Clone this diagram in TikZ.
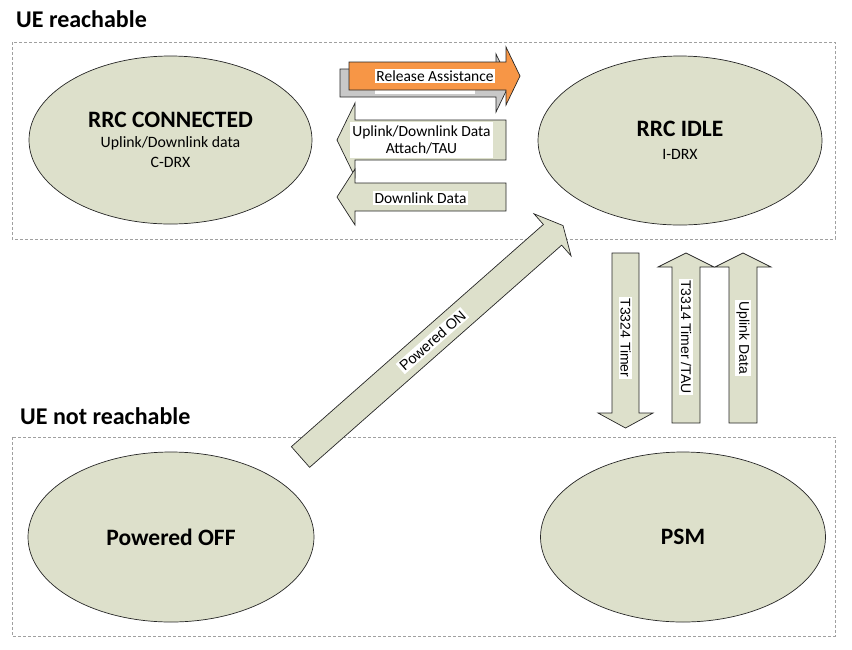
\documentclass[tikz,border=0pt]{standalone}
\usepackage{fontspec}
\setmainfont{Carlito}
\newfontfamily\arialfont{Liberation Sans}
\usetikzlibrary{shapes.geometric, positioning}
\definecolor{Sage}{RGB}{221,224,203}
\definecolor{Tangerine}{RGB}{247,150,70}
\definecolor{Shadow}{RGB}{200,200,200}
\definecolor{Frame}{RGB}{160,160,160}
\newcommand{\statefont}{\bfseries\fontsize{23.5}{25}\selectfont}
\newcommand{\notefont}{\fontsize{15.8}{20}\selectfont}
\tikzset{
  state/.style={ellipse, draw=black!85, fill=Sage, line width=0.7pt, align=center, inner sep=0pt, font=\notefont},
  zone/.style={draw=Frame, dash pattern=on 3pt off 2pt, line width=0.7pt},
  blockarrow/.style={draw=black!85, fill=Sage, line width=0.7pt, line join=miter},
  tag/.style={fill=white, inner sep=1.5pt, align=center, font=\fontsize{15.5}{17}\selectfont},
  vtag/.style={fill=white, inner sep=1.5pt, rotate=-90, font=\arialfont\fontsize{14}{16}\selectfont},
  title/.style={anchor=west, inner sep=0pt, font=\bfseries\fontsize{24}{26}\selectfont},
}

\begin{document}
\begin{tikzpicture}[x=1pt, y=-1pt]
  \useasboundingbox (0,0) rectangle (852,649);
  % reachable / not reachable zones
  \draw[zone] (12,42) rectangle (835,239);
  \draw[zone] (12,437) rectangle (835,636);
  \node[title] (reach) at (16,19) {UE reachable};
  \node[title] (unreach) at (20,416) {UE not reachable};

  % states
  \node[state, minimum width=283, minimum height=168] (conn) at (170.5,140)
    {{\statefont RRC CONNECTED}\\Uplink/Downlink data\\C-DRX};
  \node[state, minimum width=284, minimum height=169] (idle) at (680,140.5)
    {{\statefont RRC IDLE}\\[3pt]I-DRX};
  \node[state, minimum width=286, minimum height=170, font=\statefont] (off) at (171,537) {Powered OFF};
  \node[state, minimum width=285, minimum height=170, font=\statefont] (psm) at (683,537) {PSM};

  % release assistance, orange over its grey copy
  \draw[blockarrow, fill=Shadow] (340,69) -- (496,69) -- (496,54) -- (510,83) -- (496,112) -- (496,97) -- (340,97) -- cycle;
  \node[fill=white, minimum width=100, minimum height=22, inner sep=0pt] (shade) at (425,83) {};
  \draw[blockarrow, fill=Tangerine] (349,62) -- (506,62) -- (506,47) -- (520,76) -- (506,105) -- (506,90) -- (349,90) -- cycle;
  \node[tag] (relass) at (435,76) {Release Assistance};

  % back to connected
  \draw[blockarrow] (506,120) -- (355,120) -- (355,103) -- (337,140) -- (355,177) -- (355,160) -- (506,160) -- cycle;
  \node[tag, minimum width=143, minimum height=36] (uldl) at (421.5,140) {Uplink/Downlink Data\\Attach/TAU};
  \draw[blockarrow] (506,183) -- (355,183) -- (355,169) -- (337,197) -- (355,225) -- (355,211) -- (506,211) -- cycle;
  \node[tag] (dl) at (420.5,198) {Downlink Data};

  % powered on
  \begin{scope}[shift={(300.5,457)}, rotate=41.4]
    \draw[blockarrow] (0,-13.8) -- (336,-13.8) -- (336,-28) -- (350,0) -- (336,28) -- (336,13.8) -- (0,13.8) -- cycle;
    \node[tag, rotate=41.4, font=\arialfont\fontsize{14.5}{16}\selectfont] (pwron) at (176,0) {Powered ON};
  \end{scope}

  % idle <-> psm
  \draw[blockarrow] (612,253) -- (639,253) -- (639,413) -- (653,413) -- (625.5,428) -- (598,413) -- (612,413) -- cycle;
  \node[vtag] (t3324) at (625.5,338) {T3324 Timer};
  \draw[blockarrow] (672,423) -- (672,267) -- (658,267) -- (686,253) -- (714,267) -- (700,267) -- (700,423) -- cycle;
  \node[vtag] (t3314) at (686,337) {T3314 Timer /TAU};
  \draw[blockarrow] (729,423) -- (729,267) -- (715,267) -- (743,253) -- (771,267) -- (757,267) -- (757,423) -- cycle;
  \node[vtag] (uldata) at (743,338) {Uplink Data};
\end{tikzpicture}
\end{document}
